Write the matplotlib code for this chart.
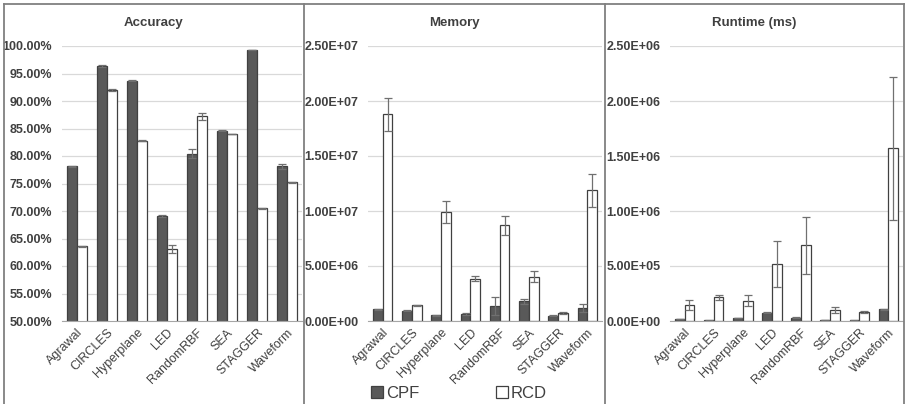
import matplotlib
matplotlib.use("Agg")
import matplotlib.pyplot as plt
import numpy as np
from matplotlib.lines import Line2D
from matplotlib.patches import Patch
from matplotlib.ticker import FuncFormatter

plt.rcParams['font.family'] = ['Liberation Sans', 'DejaVu Sans']

#=== Data ===#
CATEGORIES = ['Agrawal', 'CIRCLES', 'Hyperplane', 'LED', 'RandomRBF', 'SEA', 'STAGGER', 'Waveform']

ACC_CPF = [78.1, 96.3, 93.7, 69.1, 80.4, 84.6, 99.3, 78.1]
ACC_CPF_ERR = [0.1, 0.2, 0.05, 0.2, 0.8, 0.1, 0.05, 0.4]
ACC_RCD = [63.6, 92.0, 82.8, 63.1, 87.2, 84.0, 70.5, 75.2]
ACC_RCD_ERR = [0.1, 0.2, 0.05, 0.8, 0.7, 0.05, 0.05, 0.1]

MEM_CPF = [1.05e6, 0.94e6, 0.52e6, 0.64e6, 1.36e6, 1.79e6, 0.48e6, 1.18e6]
MEM_CPF_ERR = [0.05e6, 0.03e6, 0.02e6, 0.1e6, 0.8e6, 0.2e6, 0.03e6, 0.35e6]
MEM_RCD = [1.88e7, 1.45e6, 9.9e6, 3.85e6, 8.7e6, 4.03e6, 0.73e6, 1.19e7]
MEM_RCD_ERR = [1.5e6, 0.05e6, 1.0e6, 0.2e6, 0.85e6, 0.5e6, 0.05e6, 1.5e6]

RUN_CPF = [2e4, 5e3, 2.5e4, 7.5e4, 3e4, 1e4, 5e3, 1.05e5]
RUN_CPF_ERR = [2e3, 5e2, 2e3, 5e3, 3e3, 1e3, 5e2, 5e3]
RUN_RCD = [1.45e5, 2.15e5, 1.85e5, 5.15e5, 6.9e5, 1.0e5, 7.9e4, 1.57e6]
RUN_RCD_ERR = [4.5e4, 2e4, 5e4, 2.1e5, 2.6e5, 3e4, 8e3, 6.5e5]

#=== Style ===#
W, H = 905, 404
DARK = '#595959'
EDGE = '#404040'
TEXT = '#404040'
GRID = '#d9d9d9'
BORDER = '#808080'
BORDERS_X = [3.5, 304, 605, 903.5]


def fx(px):
    return px / W


def fy(py):
    return 1 - py / H


def Draw_Panel(rect, panel, title, cpf, cpf_err, rcd, rcd_err, ymin, ymax, step, fmt):
    ax = fig.add_axes(rect)
    x = np.arange(len(CATEGORIES))
    w = 1 / 3
    err_kw = dict(ecolor='#707070', elinewidth=0.9, capsize=3, capthick=0.9)
    ax.bar(x - w / 2, cpf, w, yerr=cpf_err, color=DARK, edgecolor=EDGE,
           linewidth=0.9, error_kw=err_kw, zorder=3)
    ax.bar(x + w / 2, rcd, w, yerr=rcd_err, color='white', edgecolor=EDGE,
           linewidth=0.9, error_kw=err_kw, zorder=3)
    ax.set_xlim(-0.5, len(CATEGORIES) - 0.5)
    ax.set_ylim(ymin, ymax)
    ax.set_yticks(np.arange(ymin, ymax + step / 2, step))
    ax.yaxis.set_major_formatter(FuncFormatter(fmt))
    ax.set_xticks(x)
    ax.set_xticklabels(CATEGORIES, rotation=45, ha='right', rotation_mode='anchor',
                       fontsize=9, color=TEXT)
    for lab in ax.get_yticklabels():
        lab.set_fontweight('bold')
        lab.set_fontsize(9)
        lab.set_color(TEXT)
    ax.tick_params(axis='y', length=0, pad=7)
    ax.tick_params(axis='x', length=0, pad=4)
    ax.grid(axis='y', color=GRID, linewidth=0.9, zorder=0)
    for s in ['top', 'right', 'left']:
        ax.spines[s].set_visible(False)
    ax.spines['bottom'].set_color('#a6a6a6')
    ax.spines['bottom'].set_zorder(4)
    ax.set_facecolor('none')
    # title centred on the whole panel box
    cx = fx((BORDERS_X[panel] + BORDERS_X[panel + 1]) / 2)
    fig.text(cx, fy(23), title, ha='center', va='center', fontsize=9.5,
             fontweight='bold', color=TEXT)
    return ax


fig = plt.figure(figsize=(W / 100, H / 100), dpi=100)

bottom = fy(321)
height = fy(46) - bottom

Draw_Panel([fx(62), bottom, fx(240), height], 0, 'Accuracy',
           ACC_CPF, ACC_CPF_ERR, ACC_RCD, ACC_RCD_ERR, 50, 100, 5,
           lambda v, p: f'{v:.2f}%')
Draw_Panel([fx(368), bottom, fx(234), height], 1, 'Memory',
           MEM_CPF, MEM_CPF_ERR, MEM_RCD, MEM_RCD_ERR, 0, 2.5e7, 5e6,
           lambda v, p: f'{v:.2E}')
Draw_Panel([fx(670), bottom, fx(233), height], 2, 'Runtime (ms)',
           RUN_CPF, RUN_CPF_ERR, RUN_RCD, RUN_RCD_ERR, 0, 2.5e6, 5e5,
           lambda v, p: f'{v:.2E}')

# panel borders
for px in BORDERS_X:
    fig.add_artist(Line2D([fx(px), fx(px)], [fy(4), 0], transform=fig.transFigure,
                          color=BORDER, linewidth=1.3))
fig.add_artist(Line2D([fx(BORDERS_X[0]), fx(BORDERS_X[-1])], [fy(4), fy(4)],
                      transform=fig.transFigure, color=BORDER, linewidth=1.3))

handles = [Patch(facecolor=DARK, edgecolor=EDGE, linewidth=0.9, label='CPF'),
           Patch(facecolor='white', edgecolor=EDGE, linewidth=0.9, label='RCD')]
fig.legend(handles=handles, loc='center', bbox_to_anchor=(fx(459), fy(393)), ncol=2,
           frameon=False, fontsize=12, handlelength=0.7, handleheight=0.7,
           handletextpad=0.2, columnspacing=4.6, labelcolor=TEXT)

fig.savefig('out.png', dpi=100)
